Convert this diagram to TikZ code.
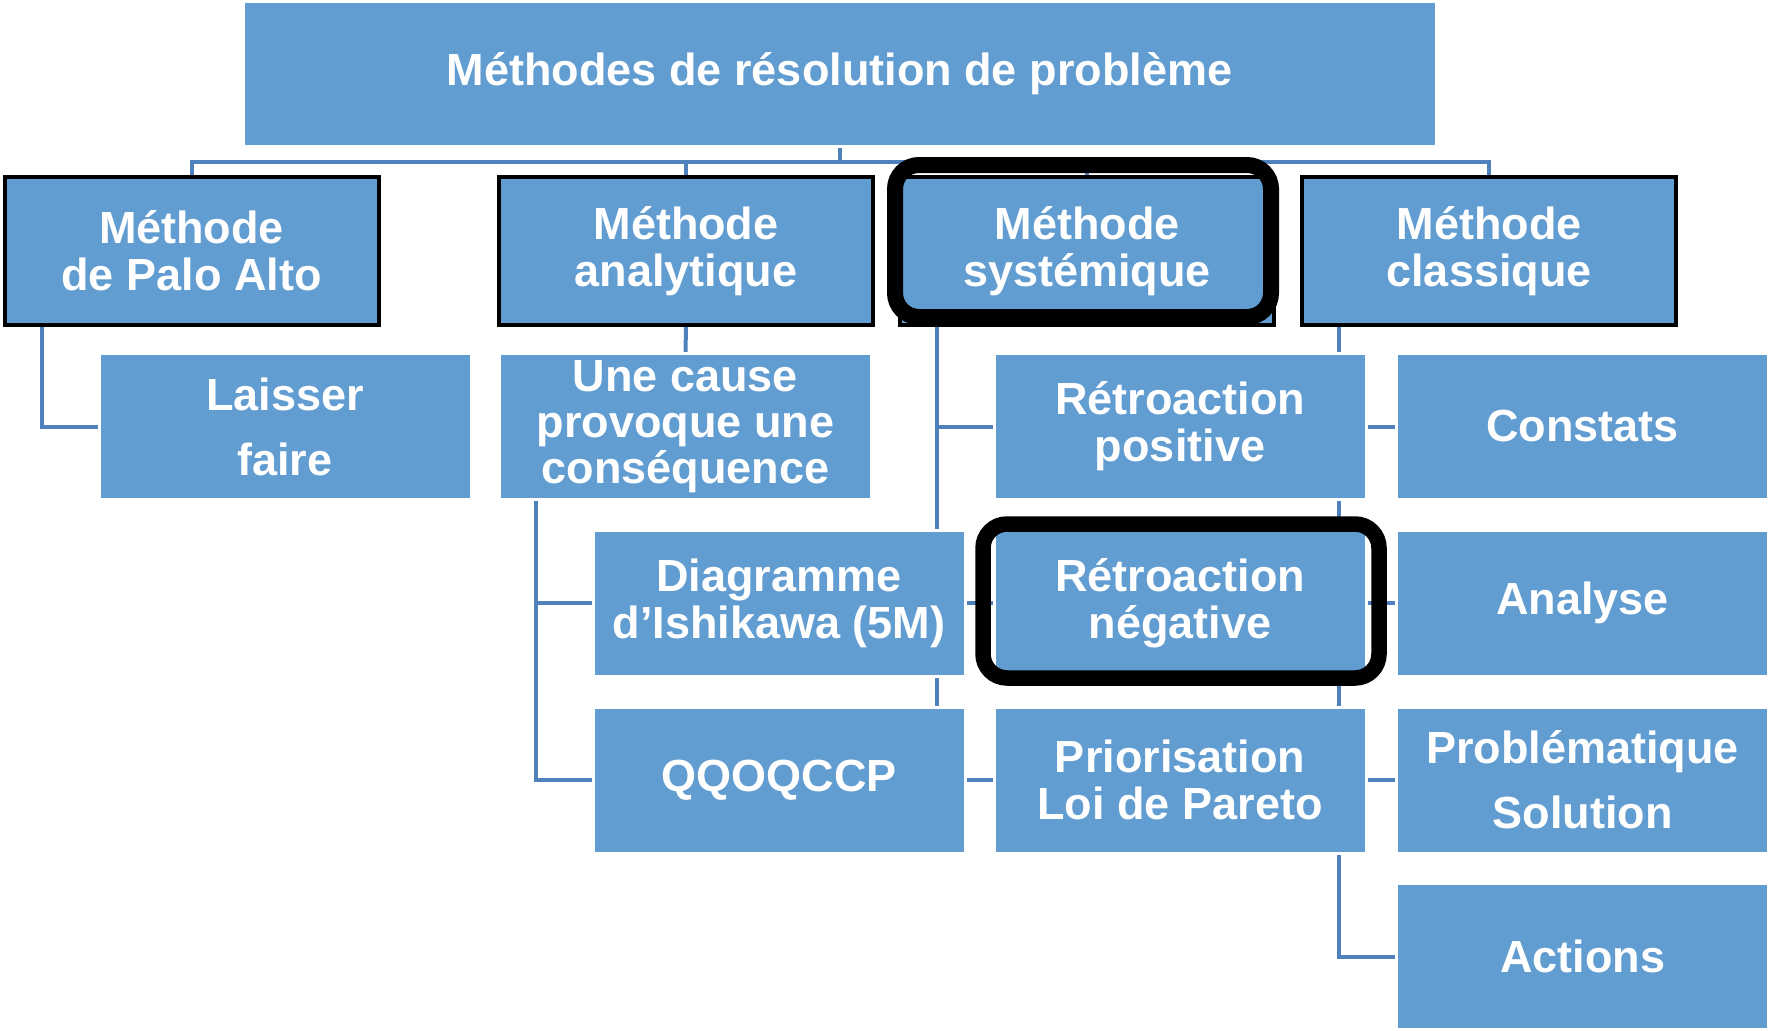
\documentclass[tikz,border=0pt]{standalone}
\usepackage{fontspec}
\setmainfont{Liberation Sans}
\pgfdeclarelayer{bg}
\pgfdeclarelayer{fg}
\pgfsetlayers{bg,main,fg}
\definecolor{boxblue}{HTML}{629DD1}
\definecolor{linkblue}{HTML}{4F81BD}
\tikzset{
  box/.style={fill=boxblue, draw=white, line width=3pt, text=white, font=\bfseries\fontsize{45}{47}\selectfont,
    align=center, inner sep=0pt, outer sep=0pt, minimum width=372pt, minimum height=146pt},
  lvltwo/.style={box, draw=black, line width=4pt, minimum width=374pt, minimum height=148pt},
  conn/.style={draw=linkblue, line width=4pt},
  hl/.style={draw=black, line width=15.5pt, rounded corners=24pt},
}
\begin{document}
\begin{tikzpicture}[x=1pt,y=-1pt]
\useasboundingbox (0,0) rectangle (1768,1030);
% level 1
\node[box, minimum width=1193pt, minimum height=144pt] (top) at (839.5,74) {Méthodes de résolution de problème};
% level 2
\node[lvltwo] (palo) at (191.5,251) {Méthode\\de Palo Alto};
\node[lvltwo] (analytique) at (686,251) {Méthode\\analytique};
\node[lvltwo] (systemique) at (1087,251) {Méthode\\systémique};
\node[lvltwo] (classique) at (1489,251) {Méthode\\classique};
% level 3
\node[box, font=\bfseries\fontsize{45}{65}\selectfont] (laisser) at (285,426.5) {Laisser\\faire};
\node[box, font=\bfseries\fontsize{45}{46}\selectfont] (unecause) at (685.5,426.5) {Une cause\\provoque une\\conséquence};
\node[box] (rpos) at (1180,426.5) {Rétroaction\\positive};
\node[box] (constats) at (1582.5,426.5) {Constats};
% level 4
\node[box] (diagramme) at (779,603) {Diagramme\\d’Ishikawa (5M)};
\node[box] (rneg) at (1180,603) {Rétroaction\\négative};
\node[box] (analyse) at (1582.5,603) {Analyse};
\node[box] (qqoqccp) at (779,780) {QQOQCCP};
\node[box] (prio) at (1180,780) {Priorisation\\Loi de Pareto};
\node[box, font=\bfseries\fontsize{45}{65}\selectfont] (probl) at (1582.5,780) {Problématique\\Solution};
\node[box] (actions) at (1582.5,956.5) {Actions};
% connectors
\begin{pgfonlayer}{bg}
\draw[conn] (top.south) -- (top.south |- 0,162);
\draw[conn] (palo.north) -- (palo.north |- 0,162) -- (classique.north |- 0,162) -- (classique.north);
\draw[conn] (analytique.north) -- (analytique.north |- 0,162);
\draw[conn] (systemique.north) -- (systemique.north |- 0,162);
\coordinate (palostem) at ([xshift=37pt]palo.south west);
\draw[conn] (palostem) |- (laisser.west);
\draw[conn] (analytique.south) -- (unecause.north);
\coordinate (causestem) at ([xshift=36pt]unecause.south west);
\draw[conn] (causestem) |- (diagramme.west);
\draw[conn] (causestem) |- (qqoqccp.west);
\coordinate (sysstem) at ([xshift=37pt]systemique.south west);
\draw[conn] (sysstem) |- (rpos.west);
\draw[conn] (sysstem) |- (rneg.west);
\draw[conn] (sysstem) |- (prio.west);
\coordinate (clastem) at ([xshift=37pt]classique.south west);
\draw[conn] (clastem) |- (constats.west);
\draw[conn] (clastem) |- (analyse.west);
\draw[conn] (clastem) |- (probl.west);
\draw[conn] (clastem) |- (actions.west);
\end{pgfonlayer}
% highlights
\begin{pgfonlayer}{fg}
\draw[hl, line width=16pt] ([shift={(-5,-12)}]systemique.north west) rectangle ([shift={(-3,-8)}]systemique.south east);
\draw[hl] ([shift={(-11,-6)}]rneg.north west) rectangle ([shift={(13,2)}]rneg.south east);
\end{pgfonlayer}
\end{tikzpicture}
\end{document}
